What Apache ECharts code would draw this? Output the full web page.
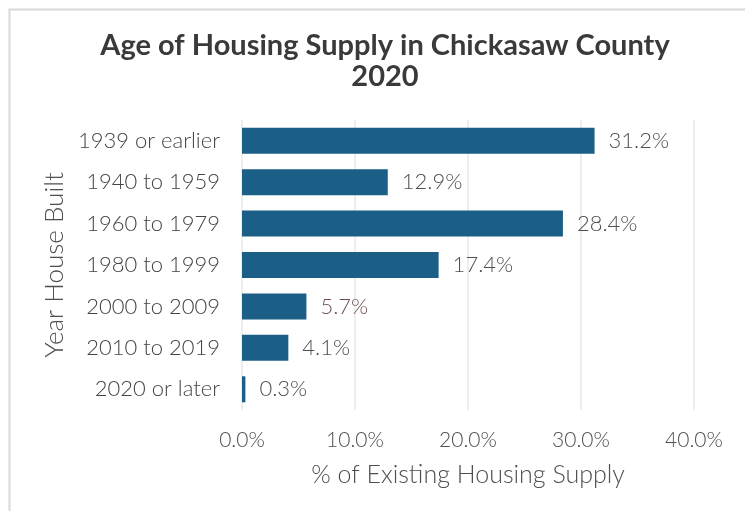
<!DOCTYPE html>
<html>
<head>
<meta charset="utf-8">
<script src="https://cdn.jsdelivr.net/npm/echarts@6/dist/echarts.min.js"></script>
<style>
html,body{margin:0;padding:0;background:#fff;}
#c{width:745px;height:511px;}
</style>
</head>
<body>
<div id="c"></div>
<script>
const categories = ['1939 or earlier','1940 to 1959','1960 to 1979','1980 to 1999','2000 to 2009','2010 to 2019','2020 or later'];
const values = [31.2, 12.9, 28.4, 17.4, 5.7, 4.1, 0.3];
const xTicks = [0, 10, 20, 30, 40];

const chart = echarts.init(document.getElementById('c'), null, {renderer:'canvas'});
const font = 'Lato, "Open Sans", sans-serif';
chart.setOption({
  animation:false,
  backgroundColor:'#fff',
  graphic:[{
    type:'rect', left:7, top:7, shape:{width:760, height:520},
    style:{fill:'none', stroke:'#d9d9d9', lineWidth:2}, silent:true
  }],
  title:{
    text:'Age of Housing Supply in Chickasaw County\n2020',
    left:380, textAlign:'center', top:25,
    textStyle:{fontFamily:font, fontSize:29, fontWeight:'bold', color:'#3a3a3a', lineHeight:31}
  },
  grid:{left:242, right:51, top:120, bottom:101},
  xAxis:{
    type:'value', min:xTicks[0], max:xTicks[xTicks.length-1], interval:10,
    name:'% of Existing Housing Supply', nameLocation:'middle', nameGap:52,
    nameTextStyle:{fontFamily:font, fontSize:25, fontWeight:300, color:'#4f4f4f'},
    axisLine:{show:false}, axisTick:{show:false},
    axisLabel:{formatter:v=>v.toFixed(1)+'%', fontFamily:font, fontSize:21, fontWeight:300, color:'#4f4f4f', margin:20},
    splitLine:{show:true, lineStyle:{color:'#e8e8e8', width:1.5}}
  },
  yAxis:{
    type:'category', data:categories, inverse:true,
    name:'Year House Built', nameLocation:'middle', nameGap:174, nameRotate:90,
    nameTextStyle:{fontFamily:font, fontSize:26, fontWeight:300, color:'#4f4f4f'},
    axisLine:{show:false}, axisTick:{show:false},
    axisLabel:{fontFamily:font, fontSize:22, fontWeight:300, color:'#444', margin:22}
  },
  series:[{
    type:'bar', data:values.map((v,i)=>({value:v, label:i===4?{color:'#6e5252'}:undefined})),
    barWidth:26,
    itemStyle:{color:'#1b5f86'},
    label:{show:true, position:'right', distance:14, formatter:p=>p.value.toFixed(1)+'%',
      fontFamily:font, fontSize:22, fontWeight:300, color:'#4f4f4f'}
  }]
});
</script>
</body>
</html>
